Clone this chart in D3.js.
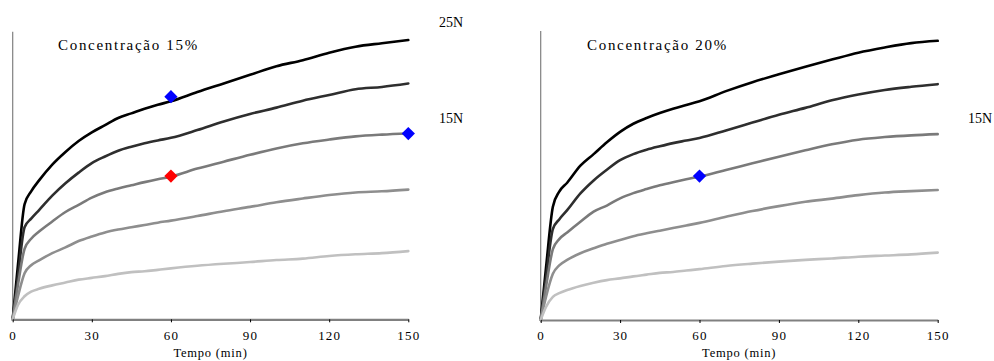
<!DOCTYPE html>
<html>
<head>
<meta charset="utf-8">
<script src="https://cdn.jsdelivr.net/npm/d3@7"></script>
<style>
  html, body { margin: 0; padding: 0; background: #fff; }
  svg { display: block; }
  svg text { font-family: "Liberation Serif", "Times New Roman", "DejaVu Serif", serif !important; fill: #000; }
</style>
</head>
<body>
<svg id="chart" width="994" height="361"></svg>
<script>
// ---------- DATA ----------
const timeL = [0, 2, 4.5, 7, 10, 15, 20, 25, 30, 35, 40, 45, 50, 55, 60, 70, 80, 90, 100, 110, 120, 130, 140, 150];
const timeR = [0, 2, 4.6, 7, 10, 15, 20, 25, 30, 35, 40, 45, 50, 55, 60, 70, 80, 90, 100, 110, 120, 130, 140, 150];

// Concentração 15%
const left1 = [0, 19, 40, 44.5, 48.3, 53.8, 58.2, 62, 65, 67.5, 70, 71.6, 73.2, 74.6, 75.8, 79, 82, 85, 88, 90.1, 92.7, 94.8, 96, 97.1];
const left2 = [0, 15, 32, 35, 38, 43, 47.3, 51, 54.3, 56.6, 58.6, 60, 61.2, 62.2, 63.1, 65.8, 68.8, 71.4, 73.6, 76, 78, 80, 80.8, 82];
const left3 = [0, 12, 24.5, 28, 30.5, 34, 37.3, 39.8, 42.3, 44.2, 45.5, 46.6, 47.7, 48.7, 49.6, 52.4, 54.8, 57.2, 59.4, 61.2, 62.5, 63.6, 64.2, 64.6];
const left4 = [0, 8, 16, 18.8, 20.5, 23, 25, 27.2, 28.8, 30.2, 31.2, 32, 32.8, 33.6, 34.3, 35.9, 37.6, 39.1, 40.7, 42, 43.2, 44.1, 44.5, 45.1];
const left5 = [0, 5, 8, 9.6, 10.6, 11.8, 12.8, 13.8, 14.4, 15, 15.8, 16.4, 16.7, 17.2, 17.7, 18.6, 19.3, 19.9, 20.6, 21.1, 22, 22.6, 23, 23.7];

// Concentração 20%
const right1 = [0, 18, 39.2, 44.4, 47.5, 53.4, 57.4, 61.5, 65.1, 67.9, 69.9, 71.6, 73.1, 74.4, 75.7, 79.2, 82.3, 85, 87.6, 90.1, 92.5, 94.3, 95.8, 96.6];
const right2 = [0, 14.5, 31.5, 34.8, 38, 43.8, 48.3, 52, 55.3, 57.4, 58.9, 60.1, 61.2, 62.1, 63, 65.6, 68.3, 71, 73.4, 76, 78, 79.6, 80.7, 81.6];
const right3 = [0, 11.5, 24.5, 28, 30.3, 34, 37.5, 39.6, 42.1, 43.9, 45.3, 46.6, 47.7, 48.7, 49.6, 51.9, 54.2, 56.5, 58.7, 60.8, 62.4, 63.3, 63.9, 64.3];
const right4 = [0, 8, 16, 18.9, 20.8, 23.1, 24.8, 26.4, 27.7, 29, 30, 30.9, 31.8, 32.7, 33.6, 35.7, 37.7, 39.4, 40.9, 42, 43.2, 44.1, 44.6, 45];
const right5 = [0, 4.5, 8, 9.3, 10.4, 11.8, 12.9, 13.8, 14.4, 15.1, 15.7, 16.3, 16.6, 17.1, 17.6, 18.7, 19.5, 20.2, 20.8, 21.3, 21.9, 22.3, 22.7, 23.3];

// highlighted points (time, value)
const leftMarkT = [60, 60, 150];
const leftMarkV = [77.4, 49.8, 64.6];
const rightMarkT = [60];
const rightMarkV = [49.8];

const xTicks = [0, 30, 60, 90, 120, 150];
const titles = ["Concentração 15%", "Concentração 20%"];
const xTitle = "Tempo (min)";
const forceLabelsL = ["25N", "15N"];
const forceLabelsR = ["15N"];

// ---------- STYLES ----------
const SERIF = '"Liberation Serif", "Times New Roman", "DejaVu Serif", serif';
const lineColors = ["#000000", "#2e2e2e", "#7a7a7a", "#8e8e8e", "#c0c0c0"];
const leftMarkColors = ["#0000ff", "#ff0000", "#0000ff"];
const rightMarkColors = ["#0000ff"];

const svg = d3.select("#chart");

function panel(cfg) {
  const x = d3.scaleLinear().domain([0, 150]).range([cfg.x0, cfg.x1]);
  const y = d3.scaleLinear().domain([0, 100]).range([cfg.yb, cfg.yt]);
  const g = svg.append("g");

  // y axis line (no ticks)
  g.append("line")
    .attr("x1", cfg.x0).attr("x2", cfg.x0)
    .attr("y1", cfg.yt).attr("y2", cfg.yb)
    .attr("stroke", "#808080").attr("stroke-width", 1.2);

  // lines
  const line = d3.line().curve(d3.curveMonotoneX).x((d, i) => x(cfg.time[i])).y(d => y(d));
  cfg.series.forEach((s, k) => {
    g.append("path")
      .datum(s)
      .attr("d", line)
      .attr("fill", "none")
      .attr("stroke", lineColors[k])
      .attr("stroke-width", 2.6)
      .attr("stroke-linejoin", "round")
      .attr("stroke-linecap", "round");
  });

  // x axis
  const ax = g.append("g")
    .attr("transform", `translate(0,${cfg.yb})`)
    .call(d3.axisBottom(x).tickValues(xTicks).tickSize(3).tickSizeOuter(0).tickPadding(8));
  ax.attr("font-family", SERIF).attr("font-size", 13);
  ax.select(".domain").attr("stroke", "#808080").attr("stroke-width", 2.2);
  ax.selectAll(".tick line").attr("stroke", "#000").attr("stroke-width", 1);
  ax.selectAll(".tick text")
    .attr("font-family", SERIF)
    .style("font-size", "13px")
    .style("letter-spacing", "1.2px")
    .attr("fill", "#000");

  // markers
  const diamond = d3.symbol().type(d3.symbolSquare).size(88);
  cfg.markT.forEach((t, i) => {
    g.append("path")
      .attr("d", diamond())
      .attr("transform", `translate(${x(t)},${y(cfg.markV[i])}) rotate(45)`)
      .attr("fill", cfg.markC[i]);
  });

  // title
  g.append("text")
    .attr("x", cfg.titleX).attr("y", 50)
    .attr("font-family", SERIF)
    .style("font-size", "15px")
    .style("letter-spacing", "1.7px")
    .text(cfg.title);

  // x axis title
  g.append("text")
    .attr("x", (cfg.x0 + cfg.x1) / 2).attr("y", 357)
    .attr("text-anchor", "middle")
    .attr("font-family", SERIF)
    .style("font-size", "12.5px")
    .style("letter-spacing", "0.8px")
    .text(xTitle);

  // force labels
  cfg.labels.forEach((lab, i) => {
    g.append("text")
      .attr("x", cfg.labelX).attr("y", cfg.labelY[i])
      .attr("font-family", SERIF)
      .style("font-size", "14px")
      .text(lab);
  });
}

panel({
  x0: 12.7, x1: 408.3, yb: 319.3, yt: 31.7,
  time: timeL, series: [left1, left2, left3, left4, left5],
  markT: leftMarkT, markV: leftMarkV, markC: leftMarkColors,
  title: titles[0], titleX: 58,
  labels: forceLabelsL, labelX: 439, labelY: [27, 123]
});

panel({
  x0: 540.7, x1: 937.7, yb: 320, yt: 31,
  time: timeR, series: [right1, right2, right3, right4, right5],
  markT: rightMarkT, markV: rightMarkV, markC: rightMarkColors,
  title: titles[1], titleX: 587,
  labels: forceLabelsR, labelX: 968, labelY: [123]
});
</script>
</body>
</html>
